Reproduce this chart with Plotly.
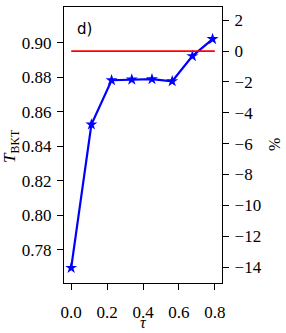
import plotly.graph_objects as go

# data
tau = [0.0, 0.1125, 0.225, 0.3375, 0.45, 0.5625, 0.675, 0.7875]
t_bkt = [0.7694, 0.8526, 0.8783, 0.8787, 0.8789, 0.8777, 0.8923, 0.9022]
t_ref = 0.8952
ref_x = [0.0, 0.8]
left_ticks = [0.78, 0.80, 0.82, 0.84, 0.86, 0.88, 0.90]
right_ticks = [-14, -12, -10, -8, -6, -4, -2, 0, 2]
x_ticks = [0.0, 0.2, 0.4, 0.6, 0.8]

y_range = [0.7606, 0.9208]
y2_range = [(v / t_ref - 1) * 100 for v in y_range]

FONT = "'Liberation Serif', 'Times New Roman', serif"

W, H = 286, 333
ML, MR, MT, MB = 64, 64, 7, 50
PW, PH = W - ML - MR, H - MT - MB


def px(x):
    return (x - ML) / PW


def py(y):
    return (H - MB - y) / PH


fig = go.Figure()
fig.add_trace(go.Scatter(
    x=ref_x, y=[0, 0], yaxis="y2", mode="lines",
    line=dict(color="#ff0000", width=1.6), showlegend=False))
fig.add_trace(go.Scatter(
    x=tau, y=t_bkt, mode="lines+markers",
    line=dict(color="#0000ff", width=2.2),
    marker=dict(symbol="star", size=9, color="#0000ff"),
    showlegend=False))

axis_common = dict(
    showline=True, linecolor="black", linewidth=1.3,
    ticks="outside", ticklen=6, tickwidth=1.3, tickcolor="black",
    showgrid=False, zeroline=False, automargin=False,
    tickfont=dict(family=FONT, size=17, color="black"),
)

fig.update_layout(
    width=W, height=H,
    margin=dict(l=ML, r=MR, t=MT, b=MB),
    paper_bgcolor="white", plot_bgcolor="white",
    xaxis=dict(range=[-0.04, 0.84], tickvals=x_ticks,
               ticktext=[f"{v:.1f}" for v in x_ticks], mirror=True,
               ticklabelstandoff=7, **axis_common),
    yaxis=dict(range=y_range, tickvals=left_ticks,
               ticktext=[f"{v:.2f}" for v in left_ticks],
               ticklabelstandoff=2, **axis_common),
    yaxis2=dict(range=y2_range, overlaying="y", side="right",
                tickvals=right_ticks, ticklabelstandoff=2, **axis_common),
    annotations=[
        dict(text="d)", xref="paper", yref="paper", x=px(75), y=py(18),
             xanchor="left", yanchor="top", showarrow=False,
             font=dict(family="DejaVu Sans", size=15, color="black")),
        dict(text="<i>T</i><sub>BKT</sub>", xref="paper", yref="paper",
             x=px(11), y=py(146), xanchor="center", yanchor="middle",
             textangle=-90, showarrow=False,
             font=dict(family=FONT, size=17, color="black")),
        dict(text="%", xref="paper", yref="paper",
             x=px(274), y=py(145), xanchor="center", yanchor="middle",
             textangle=-90, showarrow=False,
             font=dict(family=FONT, size=16, color="black")),
        dict(text="<i>τ</i>", xref="paper", yref="paper",
             x=px(143), y=py(322), xanchor="center", yanchor="middle",
             showarrow=False,
             font=dict(family=FONT, size=16, color="black")),
    ],
)

fig.write_html("out.html", config={"displayModeBar": False},
               post_script="document.body.style.margin='0';document.body.style.padding='0';")
